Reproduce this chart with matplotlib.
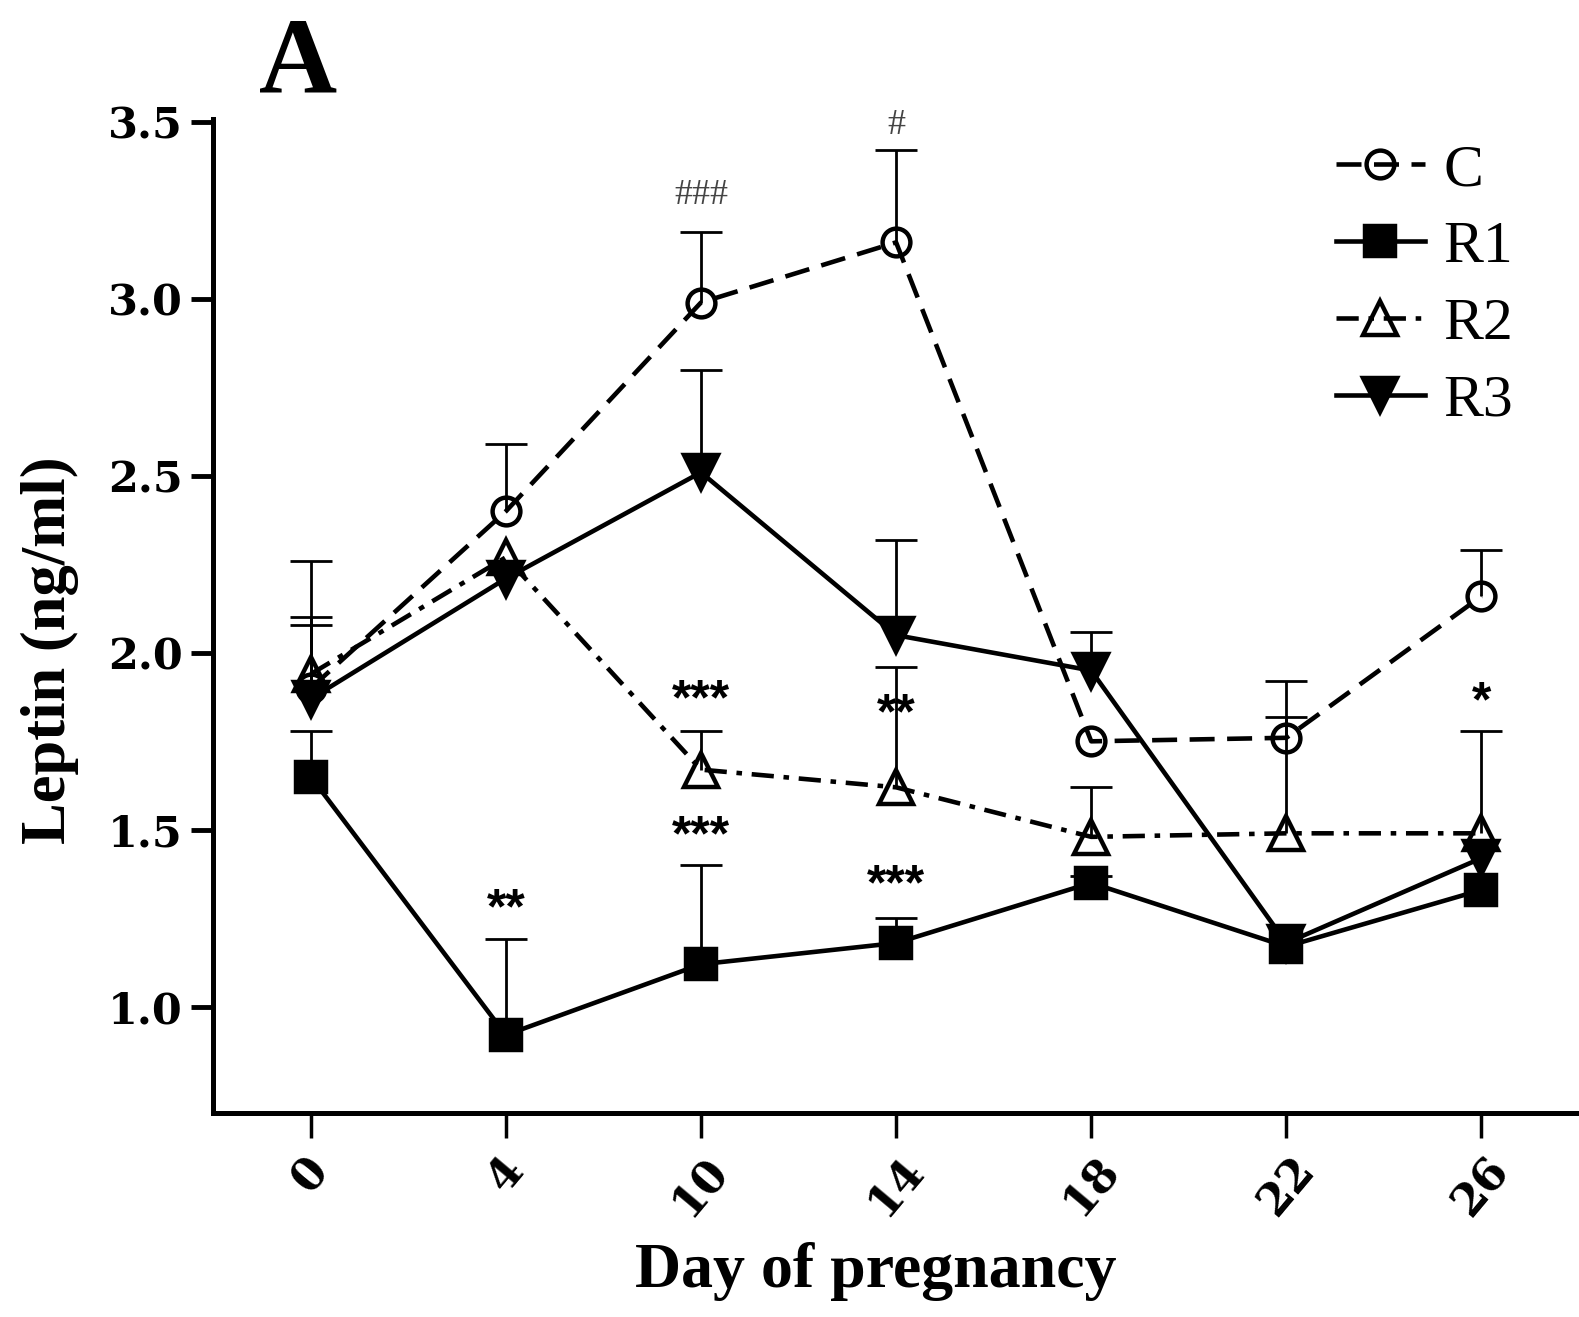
import matplotlib
matplotlib.use("Agg")
import matplotlib.pyplot as plt
import numpy as np

# data
days = ["0", "4", "10", "14", "18", "22", "26"]
c_mean = [1.90, 2.40, 2.99, 3.16, 1.75, 1.76, 2.16]
c_err = [0.20, 0.19, 0.20, 0.26, 0.0, 0.16, 0.13]
r1_mean = [1.65, 0.92, 1.12, 1.18, 1.35, 1.17, 1.33]
r1_err = [0.13, 0.27, 0.28, 0.07, 0.02, 0.0, 0.0]
r2_mean = [1.94, 2.27, 1.67, 1.62, 1.48, 1.49, 1.49]
r2_err = [0.32, 0.0, 0.11, 0.34, 0.14, 0.33, 0.29]
r3_mean = [1.87, 2.21, 2.51, 2.05, 1.95, 1.18, 1.42]
r3_err = [0.21, 0.0, 0.29, 0.27, 0.11, 0.0, 0.0]

# significance marks: (day index, series, text)
sig_idx = [1, 2, 2, 3, 3, 6, 2, 3]
sig_series = ["R1", "R2", "R1", "R2", "R1", "R2", "C", "C"]
sig_text = ["**", "***", "***", "**", "***", "*", "###", "#"]
sig_offset = [21, 21, 20, -35, 23, 20, 26, 18]   # points above cap (layout)

plt.rcParams["lines.scale_dashes"] = False
serif = "Liberation Serif"

fig = plt.figure(figsize=(15.79, 13.17), dpi=100)
ax = fig.add_axes([0.135, 0.155, 0.865, 0.755])

x = np.arange(len(days))
series = {
    "C": dict(mean=c_mean, err=c_err, marker="o", mfc="none", ms=20, dashes=(18, 9)),
    "R1": dict(mean=r1_mean, err=r1_err, marker="s", mfc="black", ms=21, dashes=None),
    "R2": dict(mean=r2_mean, err=r2_err, marker="^", mfc="none", ms=25, dashes=(16, 7, 4, 7)),
    "R3": dict(mean=r3_mean, err=r3_err, marker="v", mfc="black", ms=25, dashes=None),
}

handles = []
for name, s in series.items():
    m = np.array(s["mean"])
    e = np.array(s["err"])
    has = e > 0
    # upper error bars only
    ax.vlines(x[has], m[has], m[has] + e[has], color="black", lw=2.0, zorder=2)
    ax.plot(x[has], m[has] + e[has], ls="none", marker="_", ms=30, mew=2.0,
            color="black", zorder=2)
    ln, = ax.plot(x, m, color="black", lw=3.3, marker=s["marker"], ms=s["ms"],
                  mfc=s["mfc"], mec="black", mew=3.2, zorder=3, label=name)
    if s["dashes"] is not None:
        ln.set_dashes(s["dashes"])
    handles.append(ln)

for i, sname, txt, off in zip(sig_idx, sig_series, sig_text, sig_offset):
    s = series[sname]
    ytop = s["mean"][i] + s["err"][i]
    if txt.startswith("#"):
        ax.annotate(txt, (x[i], ytop), xytext=(0, off), textcoords="offset points",
                    ha="center", va="center", fontsize=26, family=serif, color="#444444")
    else:
        ax.annotate(txt, (x[i], ytop), xytext=(0, off), textcoords="offset points",
                    ha="center", va="center", fontsize=36, family="Liberation Sans",
                    fontweight="bold")

ax.set_xlim(-0.5, 6.5)
ax.set_ylim(0.7, 3.51)
ax.set_xticks(x)
ax.set_xticklabels(days, rotation=50, ha="center", va="top",
                   fontsize=32, family="DejaVu Serif", fontweight="bold")
ax.set_yticks([1.0, 1.5, 2.0, 2.5, 3.0, 3.5])
ax.set_yticklabels(["1.0", "1.5", "2.0", "2.5", "3.0", "3.5"],
                   fontsize=31, family="DejaVu Serif", fontweight="bold")
ax.tick_params(axis="y", direction="out", length=16, width=3.5, pad=6)
ax.tick_params(axis="x", direction="out", length=18, width=2.5, pad=8)

for side in ["top", "right"]:
    ax.spines[side].set_visible(False)
for side in ["left", "bottom"]:
    ax.spines[side].set_linewidth(3.6)

ax.set_ylabel("Leptin (ng/ml)", fontsize=45, family=serif, fontweight="bold")
ax.yaxis.set_label_coords(-0.098, 0.465)
ax.set_xlabel("Day of pregnancy", fontsize=46, family=serif, fontweight="bold")
ax.xaxis.set_label_coords(0.485, -0.13)

leg = ax.legend(handles=handles, loc="upper left", bbox_to_anchor=(0.80, 1.005),
                frameon=False, numpoints=1, handlelength=1.5, handletextpad=0.3,
                labelspacing=0.37, borderpad=0,
                prop={"family": serif, "size": 43})

fig.text(0.164, 0.93, "A", fontsize=78, family=serif, fontweight="bold", va="baseline")

fig.savefig("out.png", dpi=100)
